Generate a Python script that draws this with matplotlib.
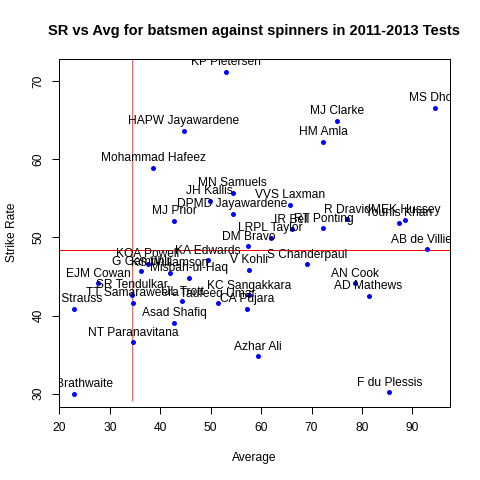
import matplotlib
matplotlib.use("Agg")
import matplotlib.pyplot as plt
import numpy as np

plt.rcParams['font.family'] = ['Liberation Sans', 'DejaVu Sans']

players = ["KP Pietersen", "HAPW Jayawardene", "Mohammad Hafeez", "MJ Clarke", "HM Amla",
           "MS Dhoni", "MN Samuels", "JH Kallis", "DPMD Jayawardene", "MJ Prior",
           "VVS Laxman", "R Dravid", "MEK Hussey", "Younis Khan", "IR Bell",
           "RT Ponting", "LRPL Taylor", "DM Bravo", "AB de Villiers", "V Kohli",
           "S Chanderpaul", "AN Cook", "AD Mathews", "KC Sangakkara", "CA Pujara",
           "Taufeeq Umar", "IJL Trott", "Asad Shafiq", "SR Tendulkar", "TT Samaraweera",
           "NT Paranavitana", "AJ Strauss", "KC Brathwaite", "Azhar Ali", "F du Plessis",
           "EJM Cowan", "G Gambhir", "KOA Powell", "KS Williamson", "Misbah-ul-Haq",
           "KA Edwards"]
average = [53.02, 44.61, 38.60, 75.11, 72.27,
           94.56, 54.33, 49.77, 54.33, 42.76,
           65.78, 77.03, 88.61, 87.28, 66.08,
           72.37, 61.91, 57.45, 92.91, 57.51,
           69.16, 78.68, 81.32, 57.65, 57.19,
           51.49, 44.35, 42.76, 34.37, 34.49,
           34.57, 22.78, 22.92, 59.29, 85.43,
           27.62, 36.21, 37.54, 41.93, 45.78,
           49.37]
strike_rate = [71.19, 63.63, 58.89, 64.96, 62.27,
               66.63, 55.69, 54.67, 53.05, 52.11,
               54.18, 52.32, 52.28, 51.85, 51.02,
               51.20, 49.97, 48.87, 48.46, 45.86,
               46.60, 44.13, 42.55, 42.59, 40.89,
               41.60, 41.82, 39.09, 42.68, 41.63,
               36.61, 40.89, 30.00, 34.78, 30.20,
               44.16, 45.70, 46.65, 45.50, 44.83,
               47.07]
avg_line = 34.53
sr_line = 48.33
sr_line_bottom = 29.0

x_ticks = [20, 30, 40, 50, 60, 70, 80, 90]
y_ticks = [30, 40, 50, 60, 70]

fig = plt.figure(figsize=(480 / 72, 480 / 72), dpi=72)
ax = fig.add_axes([59.04 / 480, 73.44 / 480, (449.76 - 59.04) / 480, (406.56 - 59.04) / 480])

ax.plot(average, strike_rate, 'o', color='blue', markersize=5, markeredgewidth=0, zorder=2)

for name, x, y in zip(players, average, strike_rate):
    t = ax.annotate(name, (x, y), xytext=(0, 6.5), textcoords='offset points',
                    ha='center', va='baseline', fontsize=12, color='black', zorder=3)
    t.set_clip_on(True)
    t.set_clip_box(ax.bbox)

xr = max(average) - min(average)
yr = max(strike_rate) - min(strike_rate)
xlim = (min(average) - 0.04 * xr, max(average) + 0.04 * xr)
ylim = (min(strike_rate) - 0.04 * yr, max(strike_rate) + 0.04 * yr)

ax.axhline(sr_line, color='#ff0000', lw=1, zorder=1.5)
ax.plot([avg_line, avg_line], [sr_line_bottom, ylim[1] + 5], color='#ff3333', lw=1,
        zorder=1.5, solid_capstyle='butt', snap=False)

ax.set_xlim(*xlim)
ax.set_ylim(*ylim)

ax.set_xticks(x_ticks)
ax.set_yticks(y_ticks)
ax.tick_params(axis='both', length=7.2, width=1, color='black', labelsize=12, labelcolor='black')
ax.tick_params(axis='x', pad=8)
ax.tick_params(axis='y', pad=7)
for lab in ax.get_yticklabels():
    lab.set_rotation(90)
    lab.set_va('center')

for sp in ax.spines.values():
    sp.set_color('black')
    sp.set_linewidth(1)

ax.set_title("SR vs Avg for batsmen against spinners in 2011-2013 Tests",
             fontsize=14.6, fontweight='bold', pad=24)
ax.set_xlabel("Average", fontsize=12)
ax.set_ylabel("Strike Rate", fontsize=12)
ax.xaxis.set_label_coords(0.5, -0.13)
ax.yaxis.set_label_coords(-0.105, 0.5)

fig.savefig("out.png", dpi=72)
